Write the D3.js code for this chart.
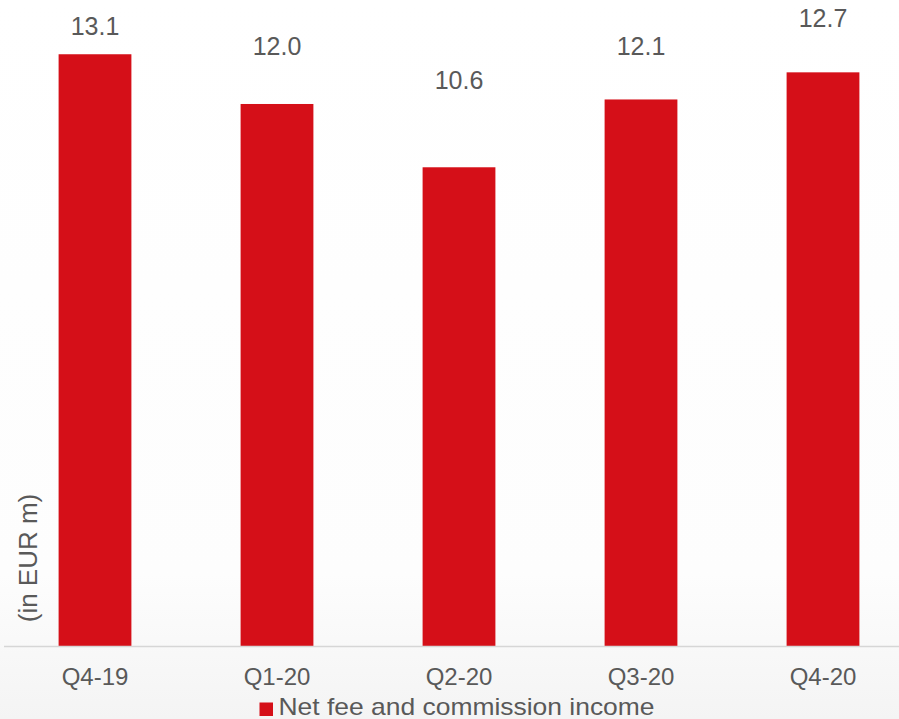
<!DOCTYPE html>
<html>
<head>
<meta charset="utf-8">
<script src="https://cdn.jsdelivr.net/npm/d3@7"></script>
<style>
  html, body { margin: 0; padding: 0; background: #fff; }
  svg { display: block; font-family: "Liberation Sans", Arial, sans-serif; }
</style>
</head>
<body>
<div class="canvas"></div>
<script>
/* Net fee and commission income, quarterly */

var quarters = ["Q4-19", "Q1-20", "Q2-20", "Q3-20", "Q4-20"];
var income = [13.1, 12.0, 10.6, 12.1, 12.7];
var seriesName = "Net fee and commission income";
var axisTitle = "(in EUR m)";

// label placement as in the original (px above the bar top)
var labelGap = [19, 49, 78, 44, 45];

var W = 899, H = 719;
var red = "#d50f18", grey = "#595959";

var svg = d3.select('.canvas')
    .append('svg')
    .attr('width', W)
    .attr('height', H);

var grad = svg.append('defs').append('linearGradient')
    .attr('id', 'bg')
    .attr('x1', 0).attr('y1', 0).attr('x2', 0).attr('y2', 1);
grad.append('stop').attr('offset', '0%').attr('stop-color', '#ffffff');
grad.append('stop').attr('offset', '80%').attr('stop-color', '#fdfdfd');
grad.append('stop').attr('offset', '100%').attr('stop-color', '#f4f4f4');

svg.append('rect')
    .attr('width', W).attr('height', H)
    .attr('fill', 'url(#bg)');

var x = d3.scaleBand()
    .domain(quarters)
    .range([4, 914])
    .paddingInner(0.6)
    .paddingOuter(0.3);

var y = d3.scaleLinear()
    .domain([0, 14.3])
    .range([646.5, 0]);

// bars
svg.append('g').selectAll('rect')
    .data(income)
    .enter()
    .append('rect')
    .attr('x', function(d, i){ return x(quarters[i]); })
    .attr('y', function(d){ return y(d); })
    .attr('width', x.bandwidth())
    .attr('height', function(d){ return y(0) - y(d); })
    .attr('fill', red);

// value labels
svg.append('g').selectAll('text')
    .data(income)
    .enter()
    .append('text')
    .attr('x', function(d, i){ return x(quarters[i]) + x.bandwidth() / 2; })
    .attr('y', function(d, i){ return y(d) - labelGap[i]; })
    .attr('text-anchor', 'middle')
    .style('font-size', '25px')
    .style('fill', grey)
    .text(function(d){ return d3.format('.1f')(d); });

// x axis
var xAxis = svg.append('g')
    .attr('transform', 'translate(0,' + y(0) + ')')
    .call(d3.axisBottom(x).tickSize(0).tickPadding(21));
xAxis.select('.domain')
    .attr('d', 'M4,0H' + W)
    .attr('stroke', '#d6d6d6')
    .attr('stroke-width', 1.5);
xAxis.selectAll('.tick text')
    .style('font-size', '24px')
    .style('font-family', '"Liberation Sans", Arial, sans-serif')
    .style('fill', grey);

// y title
svg.append('text')
    .attr('transform', 'translate(36.5,558) rotate(-90)')
    .attr('text-anchor', 'middle')
    .style('font-size', '26px')
    .style('fill', grey)
    .text(axisTitle);

// legend
var legend = svg.append('g').attr('transform', 'translate(259.5,702.5)');
legend.append('rect')
    .attr('width', 13.5).attr('height', 13.5)
    .attr('fill', red);
legend.append('text')
    .attr('x', 19)
    .attr('y', 12.5)
    .attr('textLength', 376)
    .attr('lengthAdjust', 'spacingAndGlyphs')
    .style('font-size', '24px')
    .style('fill', grey)
    .text(seriesName);
</script>
</body>
</html>
